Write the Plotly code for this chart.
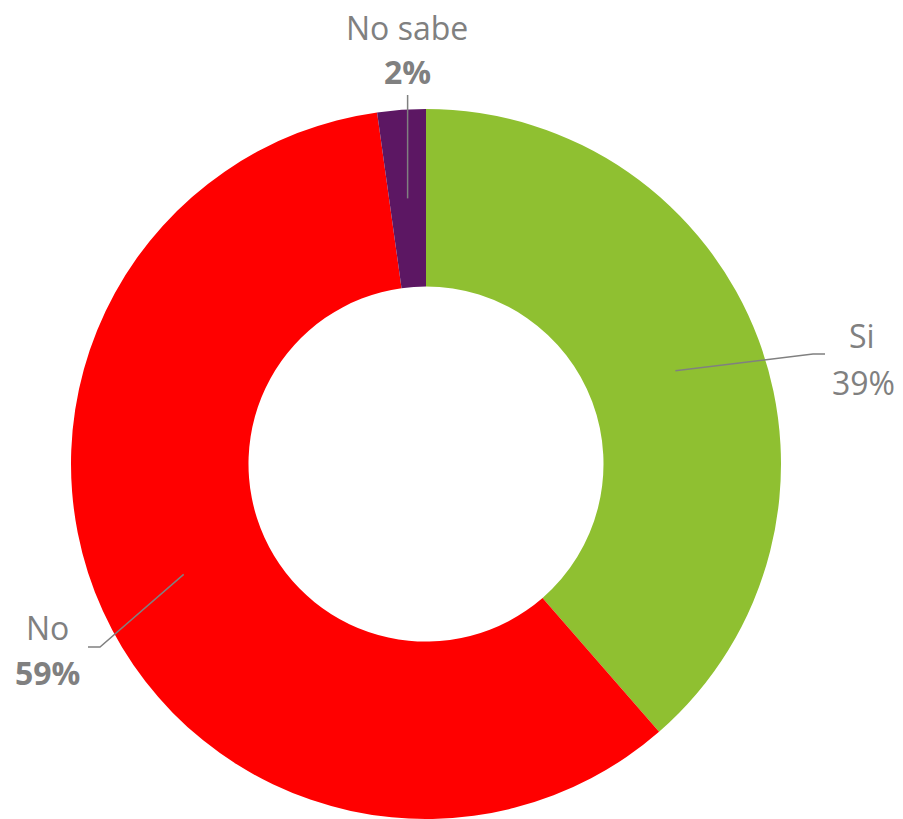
"""Donut chart: Si / No / No sabe, with Excel-style leader-line labels."""

import math

import plotly.graph_objects as go

CATEGORIES = ["Si", "No", "No sabe"]
VALUES = [38.6, 59.2, 2.2]
PCT_LABELS = ["39%", "59%", "2%"]
PCT_BOLD = [False, True, True]
COLORS = ["#8FC031", "#FF0000", "#5C1763"]

W, H = 903, 819
GREY = "#808080"
FONT = "Open Sans"
FONT_SIZE = 32

# pie domain (paper coords) -> centre and radius in pixels
DOM_X = [70 / W, 782 / W]
DOM_Y = [0.0, 710 / H]
CX = (DOM_X[0] + DOM_X[1]) / 2 * W
CY = H - (DOM_Y[0] + DOM_Y[1]) / 2 * H
R = min((DOM_X[1] - DOM_X[0]) * W, (DOM_Y[1] - DOM_Y[0]) * H) / 2
HOLE = 0.5

# label placement per category: name centre, percent centre, leader bend, leader end (px)
LABEL_POS = {
    "Si": dict(name=(862, 335), pct=(863, 382), bend=(813, 354), end=(825, 354)),
    "No": dict(name=(47, 627), pct=(47, 672), bend=(100, 647), end=(88, 647)),
    "No sabe": dict(name=(407, 28), pct=(407, 71), bend=(None, 95), end=(None, 95)),
}


def px_to_paper(x, y):
    return x / W, 1 - y / H


fig = go.Figure(
    go.Pie(
        labels=CATEGORIES,
        values=VALUES,
        hole=HOLE,
        sort=False,
        direction="clockwise",
        rotation=0,
        marker=dict(colors=COLORS, line=dict(width=0)),
        textinfo="none",
        hoverinfo="label+percent",
        domain=dict(x=DOM_X, y=DOM_Y),
        showlegend=False,
    )
)

total = sum(VALUES)
cum = 0
shapes, annotations = [], []
for cat, val, pct, bold in zip(CATEGORIES, VALUES, PCT_LABELS, PCT_BOLD):
    mid = (cum + val / 2) / total * 2 * math.pi
    cum += val
    r_mid = R * (1 + HOLE) / 2
    sx = CX + r_mid * math.sin(mid)
    sy = CY - r_mid * math.cos(mid)
    pos = LABEL_POS[cat]
    bx, by = pos["bend"]
    ex, ey = pos["end"]
    bx = sx if bx is None else bx
    ex = sx if ex is None else ex
    path = "M {} {} L {} {} L {} {}".format(
        *px_to_paper(sx, sy), *px_to_paper(bx, by), *px_to_paper(ex, ey)
    )
    shapes.append(dict(type="path", xref="paper", yref="paper", path=path,
                       line=dict(color=GREY, width=1.5)))
    nx, ny = px_to_paper(*pos["name"])
    annotations.append(dict(x=nx, y=ny, xref="paper", yref="paper", text=cat,
                            showarrow=False, xanchor="center", yanchor="middle",
                            font=dict(family=FONT, size=FONT_SIZE, color=GREY)))
    qx, qy = px_to_paper(*pos["pct"])
    annotations.append(dict(x=qx, y=qy, xref="paper", yref="paper",
                            text=f"<b>{pct}</b>" if bold else pct,
                            showarrow=False, xanchor="center", yanchor="middle",
                            font=dict(family=FONT, size=FONT_SIZE, color=GREY)))

fig.update_layout(
    width=W,
    height=H,
    margin=dict(l=0, r=0, t=0, b=0),
    paper_bgcolor="white",
    plot_bgcolor="white",
    shapes=shapes,
    annotations=annotations,
)

# drop the default 8px body margin so the figure sits flush in the window
fig.write_html(
    "out.html",
    config={"displayModeBar": False},
    post_script="document.body.style.margin='0';",
)
